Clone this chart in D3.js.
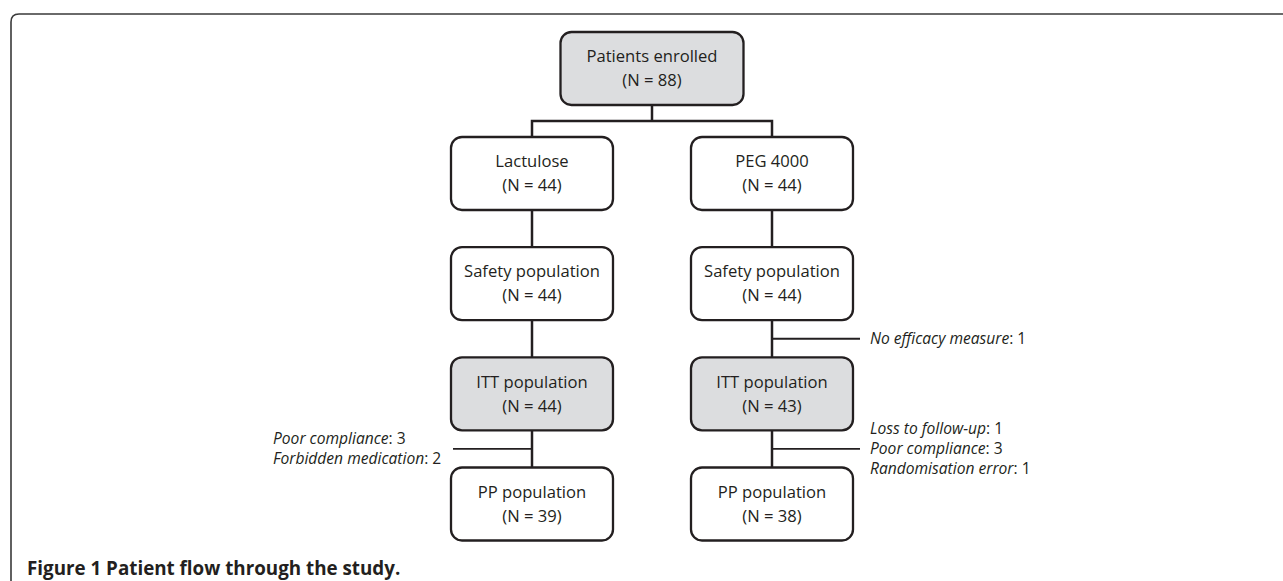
<!DOCTYPE html>
<html>
<head>
<meta charset="utf-8">
<script src="https://cdn.jsdelivr.net/npm/d3@7"></script>
<style>
  body { margin: 0; background: #fff; }
  text { font-family: "Open Sans", sans-serif; fill: #231f20; }
</style>
</head>
<body>
<script>
const width = 1283,
      height = 581;

// data
const arms = ["Lactulose", "PEG 4000"];
const stages = ["arm", "Safety population", "ITT population", "PP population"];
const enrolledN = 88;
const lactuloseN = [44, 44, 44, 39];
const pegN = [44, 44, 43, 38];
const shadedStages = ["ITT population"];

// exclusions: arm, stage they drop out before, reasons, counts
const exclusionArm = ["PEG 4000", "Lactulose", "PEG 4000"];
const exclusionStage = ["ITT population", "PP population", "PP population"];
const exclusionReasons = [
  ["No efficacy measure"],
  ["Poor compliance", "Forbidden medication"],
  ["Loss to follow-up", "Poor compliance", "Randomisation error"]
];
const exclusionCounts = [[1], [3, 2], [1, 3, 1]];

const caption = ["Figure 1", "Patient flow through the study."];

const boxW = 162, boxH = 73, topW = 183;
const ink = "#231f20";

const x = d3.scalePoint()
      .domain(arms)
      .range([532, 772]);

const y = d3.scalePoint()
      .domain(stages)
      .range([173.5, 504]);

const midX = x(arms[0]) + (x(arms[1]) - x(arms[0])) / 2,
      topY = y("arm") - 105,
      splitY = (topY + boxH / 2 + y("arm") - boxH / 2) / 2;

const svg = d3.select("body")
  .append("svg")
  .attr("width", width)
  .attr("height", height);

// frame
const r = 8;
svg.append("path")
  .attr("d", `M11,${height + 5} V${14 + r} Q11,14 ${11 + r},14 H${width + 5}`)
  .attr("fill", "none")
  .attr("stroke", "#3a3a3a")
  .attr("stroke-width", 1.6);

const links = svg.append("g")
  .attr("stroke", ink)
  .attr("stroke-width", 2.5)
  .attr("fill", "none");

// enrolled -> arms
links.append("path")
  .attr("d", `M${midX},${topY + boxH / 2} V${splitY}`);
links.append("path")
  .attr("d", `M${x(arms[0])},${y("arm") - boxH / 2} V${splitY} H${x(arms[1])} V${y("arm") - boxH / 2}`);

// stage to stage
arms.forEach((a) => {
  stages.slice(1).forEach((s, i) => {
    links.append("line")
      .attr("x1", x(a)).attr("x2", x(a))
      .attr("y1", y(stages[i]) + boxH / 2)
      .attr("y2", y(s) - boxH / 2);
  });
});

// exclusion branches
const branches = svg.append("g");
exclusionArm.forEach((a, k) => {
  const s = exclusionStage[k];
  const prev = stages[stages.indexOf(s) - 1];
  const by = (y(prev) + boxH / 2 + y(s) - boxH / 2) / 2;
  const right = arms.indexOf(a) === 1;
  const x0 = x(a),
        x1 = right ? x0 + 88 : x0 - 79;
  branches.append("line")
    .attr("x1", x0).attr("x2", x1)
    .attr("y1", by).attr("y2", by)
    .attr("stroke", ink)
    .attr("stroke-width", 1.8);

  const reasons = exclusionReasons[k];
  const lineH = 20;
  const t = branches.append("text")
    .attr("font-size", 15.6);
  reasons.forEach((reason, j) => {
    const ty = by + (j - (reasons.length - 1) / 2) * lineH;
    const row = t.append("tspan")
      .attr("x", right ? x1 + 10 : 273)
      .attr("y", ty)
      .attr("dy", "0.35em");
    row.append("tspan")
      .attr("font-style", "italic")
      .text(reason);
    row.append("tspan")
      .text(": " + exclusionCounts[k][j]);
  });
});

// boxes
function drawBox(cx, cy, w, label, n, shaded) {
  const g = svg.append("g").attr("transform", `translate(${cx},${cy})`);
  g.append("rect")
    .attr("x", -w / 2).attr("y", -boxH / 2)
    .attr("width", w).attr("height", boxH)
    .attr("rx", 11).attr("ry", 11)
    .attr("fill", shaded ? "#dcdddf" : "#fff")
    .attr("stroke", ink)
    .attr("stroke-width", 2.3);
  g.append("text")
    .attr("text-anchor", "middle")
    .attr("y", -12)
    .attr("dy", "0.35em")
    .attr("font-size", 16.6)
    .text(label);
  g.append("text")
    .attr("text-anchor", "middle")
    .attr("y", 12)
    .attr("dy", "0.35em")
    .attr("font-size", 16.6)
    .text(`(N = ${n})`);
}

drawBox(midX, topY, topW, "Patients enrolled", enrolledN, true);

const counts = { "Lactulose": lactuloseN, "PEG 4000": pegN };
arms.forEach((a) => {
  stages.forEach((s, i) => {
    drawBox(x(a), y(s), boxW, s === "arm" ? a : s, counts[a][i], shadedStages.includes(s));
  });
});

// caption
svg.append("text")
  .attr("x", 27)
  .attr("y", 575)
  .attr("font-size", 18.8)
  .attr("font-weight", "bold")
  .text(caption.join(" "));
</script>
</body>
</html>
